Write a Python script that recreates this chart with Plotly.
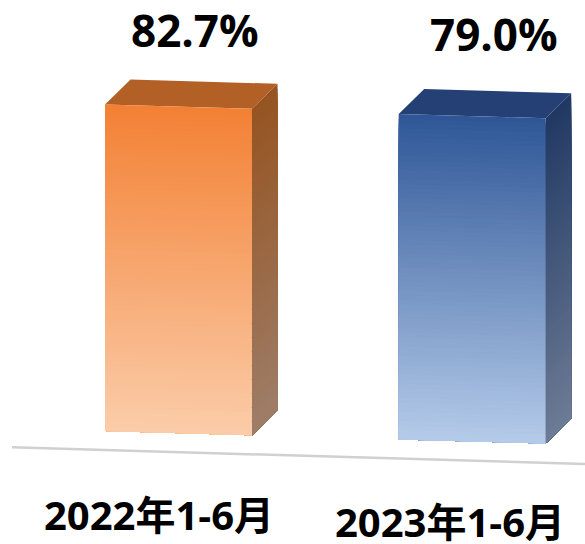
import plotly.graph_objects as go

# Data
categories = ["2022年1-6月", "2023年1-6月"]
values = [82.7, 79.0]
value_labels = ["82.7%", "79.0%"]

# Styles
front_top_colors = [(243, 129, 53), (47, 87, 151)]
front_bottom_colors = [(251, 205, 170), (182, 204, 234)]
side_top_colors = [(150, 84, 33), (33, 56, 99)]
side_bottom_colors = [(158, 126, 105), (110, 125, 150)]
top_colors = ["#b36027", "#244074"]

# Layout geometry (pixels in a skewed drawing plane)
WIDTH, HEIGHT = 585, 544
SLOPE = 0.0285
BAR_W = 147
DEPTH_X, DEPTH_Y = 25.5, -25
bar_left = [105, 398.7]
bar_base_left = [431, 439.4]
HEIGHT_AT_79, PX_PER_UNIT = 325.4, 0.27
BANDS = 70


def mix(a, b, t):
    return "rgb(%d,%d,%d)" % tuple(round(p + (q - p) * t) for p, q in zip(a, b))


def poly(xs, ys, color):
    return go.Scatter(
        x=xs + xs[:1], y=ys + ys[:1], mode="lines", fill="toself",
        fillcolor=color, line=dict(width=0), hoverinfo="skip", showlegend=False,
    )


traces = []
# Baseline
traces.append(go.Scatter(x=[12, 585], y=[447.3, 464], mode="lines",
                         line=dict(color="#d0d0d0", width=2.5),
                         hoverinfo="skip", showlegend=False))

for i, v in enumerate(values):
    h = HEIGHT_AT_79 + (v - 79.0) * PX_PER_UNIT
    xl, xr = bar_left[i], bar_left[i] + BAR_W
    yb_l = bar_base_left[i]
    yb_r = yb_l + SLOPE * BAR_W
    # Top face
    traces.append(poly(
        [xl, xr, xr + DEPTH_X, xl + DEPTH_X],
        [yb_l - h, yb_r - h, yb_r - h + DEPTH_Y, yb_l - h + DEPTH_Y],
        top_colors[i]))
    # Front + side: each band reaches the bottom, painted top to bottom, so no seams
    for k in range(BANDS):
        t = k / BANDS
        yy = h * (1 - t)
        traces.append(poly(
            [xl, xr, xr, xl],
            [yb_l - yy, yb_r - yy, yb_r, yb_l],
            mix(front_top_colors[i], front_bottom_colors[i], t)))
        traces.append(poly(
            [xr, xr + DEPTH_X, xr + DEPTH_X, xr],
            [yb_r - yy, yb_r - yy + DEPTH_Y, yb_r + DEPTH_Y, yb_r],
            mix(side_top_colors[i], side_bottom_colors[i], t)))

fig = go.Figure(traces)

FONT = "Open Sans, Noto Sans CJK SC, sans-serif"
label_pos = [(195, 29.5), (494, 33.5)]
cat_pos = [(158.5, 514), (449.5, 521.5)]
for (x, y), s in zip(label_pos, value_labels):
    fig.add_annotation(x=x, y=y, text="<b>%s</b>" % s, showarrow=False,
                       font=dict(family=FONT, size=44, color="#000000"))
for (x, y), s in zip(cat_pos, categories):
    fig.add_annotation(x=x, y=y, text="<b>%s</b>" % s, showarrow=False,
                       font=dict(family=FONT, size=40, color="#000000"))

fig.update_layout(
    width=WIDTH, height=HEIGHT, margin=dict(l=0, r=0, t=0, b=0),
    paper_bgcolor="white", plot_bgcolor="white", showlegend=False,
    xaxis=dict(range=[0, WIDTH], visible=False, fixedrange=True),
    yaxis=dict(range=[HEIGHT, 0], visible=False, fixedrange=True),
)
fig.write_html("out.html", config={"displayModeBar": False},
               post_script="document.body.style.margin='0';document.body.style.overflow='hidden';")
